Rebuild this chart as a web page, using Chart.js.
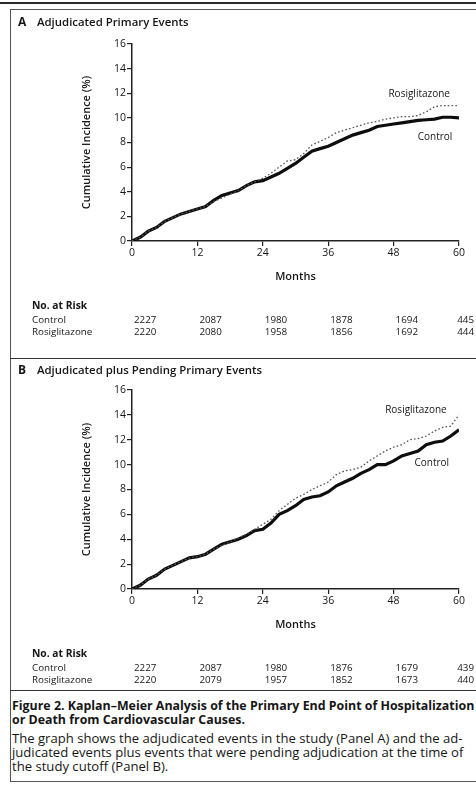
<!DOCTYPE html>
<html><head><meta charset="utf-8">
<script src="https://cdn.jsdelivr.net/npm/chart.js@4.4.0/dist/chart.umd.min.js"></script>
<style>
html,body{margin:0;padding:0;background:#fff;width:476px;height:809px;overflow:hidden;font-family:"Open Sans",sans-serif;color:#161616}
.abs{position:absolute}
#topline{left:0;top:2px;width:476px;height:2px;background:#2a2a2a}
#frame{left:10px;top:9px;width:480px;height:773px;border-left:1px solid #555;border-top:1px solid #555;border-bottom:1px solid #555;box-sizing:border-box}
.sep{left:10px;width:470px;height:0;border-top:1.5px solid #333}
#caption{left:12px;top:699px;white-space:nowrap;line-height:14px}
#caption .b{font-weight:700;font-size:12.4px}
#caption .n{font-size:13.1px;margin-top:4px}
canvas{position:absolute;left:0}
</style></head>
<body>
<div id="topline" class="abs"></div>
<div id="frame" class="abs"></div>
<div class="abs sep" style="top:358px"></div>
<div class="abs sep" style="top:690px"></div>
<div class="abs" style="left:0;top:0;width:476px;height:348px"><canvas id="chartA"></canvas></div>
<div class="abs" style="left:0;top:348px;width:476px;height:342px"><canvas id="chartB"></canvas></div>
<div id="caption" class="abs">
<div class="b">Figure 2. Kaplan–Meier Analysis of the Primary End Point of Hospitalization<br>or Death from Cardiovascular Causes.</div>
<div class="n">The graph shows the adjudicated events in the study (Panel A) and the ad-<br>judicated events plus events that were pending adjudication at the time of<br>the study cutoff (Panel B).</div>
</div>
<script>
// ---- data ----
const months = [0,1.5,3,4.5,6,7.5,9,10.5,12,13.5,15,16.5,18,19.5,21,22.5,24,25.5,27,28.5,30,31.5,33,34.5,36,37.5,39,40.5,42,43.5,45,46.5,48,49.5,51,52.5,54,55.5,57,58.5,60];
const controlA = [0,0.3,0.8,1.1,1.6,1.9,2.2,2.4,2.6,2.8,3.3,3.7,3.9,4.1,4.5,4.8,4.9,5.2,5.5,5.9,6.3,6.8,7.3,7.5,7.7,8.0,8.3,8.6,8.8,9.0,9.3,9.4,9.5,9.6,9.7,9.8,9.85,9.9,10.05,10.05,10.0];
const rosiA    = [0,0.3,0.8,1.1,1.6,1.9,2.2,2.4,2.6,2.8,3.2,3.5,3.8,4.1,4.5,4.8,5.1,5.5,6.0,6.5,6.6,7.1,7.8,8.1,8.4,8.8,9.0,9.2,9.4,9.6,9.7,9.9,10.0,10.1,10.1,10.2,10.5,10.9,11.0,11.0,11.0];
const controlB = [0,0.3,0.8,1.1,1.6,1.9,2.2,2.5,2.6,2.8,3.2,3.6,3.8,4.0,4.3,4.7,4.8,5.3,6.0,6.3,6.7,7.2,7.4,7.5,7.8,8.3,8.6,8.9,9.3,9.6,10.0,10.0,10.3,10.7,10.9,11.1,11.6,11.8,11.9,12.3,12.8];
const rosiB    = [0,0.3,0.8,1.1,1.6,1.9,2.2,2.5,2.6,2.8,3.2,3.5,3.8,4.1,4.4,4.8,5.2,5.6,6.3,6.8,7.3,7.6,8.0,8.3,8.6,9.2,9.5,9.6,9.8,10.3,10.7,11.1,11.4,11.6,12.0,12.1,12.3,12.7,13.0,13.1,14.0];
const xTicks = [0,12,24,36,48,60];
const yTicks = [0,2,4,6,8,10,12,14,16];
const riskMonths = [0,12,24,36,48,60];
const riskControlA = [2227,2087,1980,1878,1694,445];
const riskRosiA    = [2220,2080,1958,1856,1692,444];
const riskControlB = [2227,2087,1980,1876,1679,439];
const riskRosiB    = [2220,2079,1957,1852,1673,440];
const seriesNames = ['Control','Rosiglitazone'];

const FONT = '"Open Sans", sans-serif';
const INK = '#161616';

const textPlugin = {
  id: 'panelText',
  afterDraw(chart, args, o) {
    const ctx = chart.ctx, xs = chart.scales.x, ys = chart.scales.y, ca = chart.chartArea;
    ctx.save();
    ctx.fillStyle = INK;
    ctx.textBaseline = 'middle';
    ctx.textAlign = 'left';
    ctx.font = '700 12px ' + FONT;
    ctx.fillText(o.letter, 18, o.titleY);
    ctx.font = '600 11.4px ' + FONT;
    ctx.fillText(o.title, 37, o.titleY);
    ctx.save();
    ctx.translate(87, (ca.top + ca.bottom) / 2);
    ctx.rotate(-Math.PI / 2);
    ctx.textAlign = 'center';
    ctx.font = '600 11px ' + FONT;
    ctx.fillText('Cumulative Incidence (%)', 0, 0);
    ctx.restore();
    ctx.textAlign = 'center';
    ctx.font = '600 11px ' + FONT;
    ctx.fillText('Months', (ca.left + ca.right) / 2, o.monthsY);
    ctx.font = '400 10px ' + FONT;
    ctx.fillText(seriesNames[1], xs.getPixelForValue(o.rosiLabel[0]), ys.getPixelForValue(o.rosiLabel[1]));
    ctx.fillText(seriesNames[0], xs.getPixelForValue(o.ctrlLabel[0]), ys.getPixelForValue(o.ctrlLabel[1]));
    ctx.textAlign = 'left';
    ctx.font = '700 10.3px ' + FONT;
    ctx.fillText('No. at Risk', 32, o.riskY);
    ctx.font = '400 9.8px ' + FONT;
    const rows = [[seriesNames[0], o.riskC], [seriesNames[1], o.riskR]];
    rows.forEach((r, i) => {
      const y = o.riskY + 14 + i * 12;
      ctx.textAlign = 'left';
      ctx.fillText(r[0], 32, y);
      r[1].forEach((v, j) => {
        const px = xs.getPixelForValue(riskMonths[j]);
        if (j === r[1].length - 1) { ctx.textAlign = 'right'; ctx.fillText(String(v), 474, y); }
        else { ctx.textAlign = 'left'; ctx.fillText(String(v), px + 2, y); }
      });
    });
    ctx.restore();
  }
};

function makeChart(id, ctrl, rosi, pad, o) {
  return new Chart(document.getElementById(id), {
    type: 'line',
    data: {
      datasets: [
        { label: seriesNames[1], data: months.map((m, i) => ({x: m, y: rosi[i]})),
          borderColor: '#555', borderWidth: 1.3, borderDash: [1.6, 2.2], pointRadius: 0, tension: 0, fill: false },
        { label: seriesNames[0], data: months.map((m, i) => ({x: m, y: ctrl[i]})),
          borderColor: '#0d0d0d', borderWidth: 3.2, pointRadius: 0, tension: 0, fill: false }
      ]
    },
    options: {
      responsive: true, maintainAspectRatio: false, animation: false,
      layout: { padding: pad },
      plugins: { legend: { display: false }, tooltip: { enabled: false }, panelText: o },
      scales: {
        x: { type: 'linear', min: 0, max: 60,
             afterFit: s => { s.height = 25; },
             afterBuildTicks: s => { s.ticks = xTicks.map(v => ({value: v})); },
             ticks: { color: INK, font: { family: FONT, size: 10.5 }, padding: 1, maxRotation: 0, autoSkip: false },
             grid: { drawOnChartArea: false, drawTicks: true, tickLength: 5, color: '#222', lineWidth: 1.2 },
             border: { display: true, color: '#222', width: 1.5 } },
        y: { type: 'linear', min: 0, max: 16,
             afterFit: s => { s.width = 40; },
             afterBuildTicks: s => { s.ticks = yTicks.map(v => ({value: v})); },
             ticks: { color: INK, font: { family: FONT, size: 10.5 }, padding: 1, autoSkip: false },
             grid: { drawOnChartArea: false, drawTicks: true, tickLength: 5, color: '#222', lineWidth: 1.2 },
             border: { display: true, color: '#222', width: 1.5 } }
      }
    },
    plugins: [textPlugin]
  });
}

makeChart('chartA', controlA, rosiA, {left: 92, right: 17, top: 44, bottom: 348 - 241 - 25},
  { letter: 'A', title: 'Adjudicated Primary Events', titleY: 23, monthsY: 277, riskY: 306,
    rosiLabel: [52.7, 11.9], ctrlLabel: [55.6, 8.45], riskC: riskControlA, riskR: riskRosiA });
makeChart('chartB', controlB, rosiB, {left: 92, right: 17, top: 390 - 348, bottom: 342 - (589 - 348) - 25},
  { letter: 'B', title: 'Adjudicated plus Pending Primary Events', titleY: 371 - 348, monthsY: 625 - 348, riskY: 654 - 348,
    rosiLabel: [52.1, 14.4], ctrlLabel: [55.0, 10.1], riskC: riskControlB, riskR: riskRosiB });
</script>
</body></html>
